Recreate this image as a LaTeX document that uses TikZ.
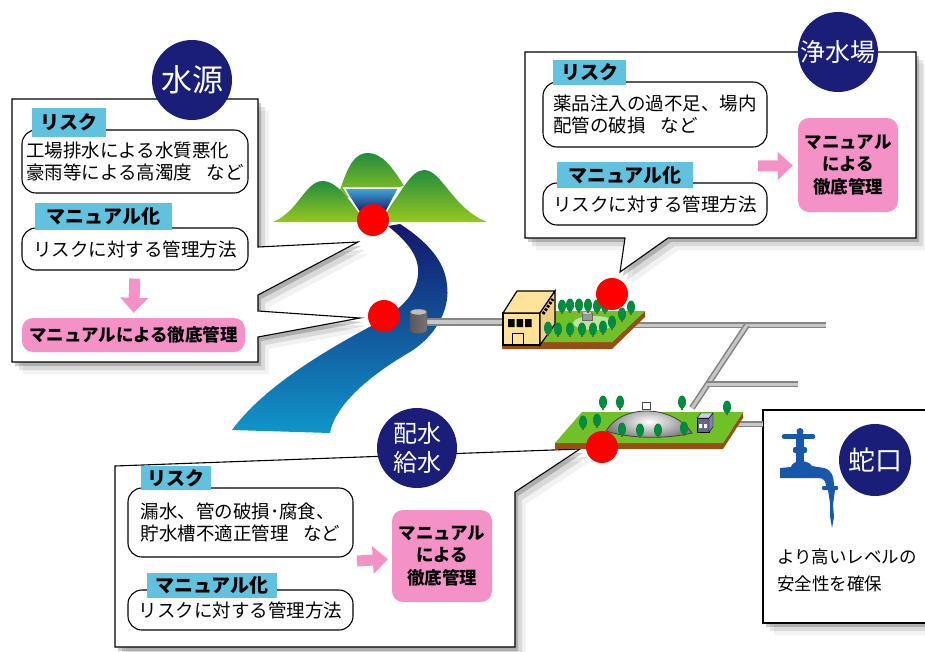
\documentclass[tikz,border=0pt]{standalone}
\usepackage{fontspec}
\setmainfont{Noto Sans CJK JP}
\usetikzlibrary{arrows.meta,shadows}

\definecolor{navy}{RGB}{26,30,120}
\definecolor{tagblue}{RGB}{96,194,222}
\definecolor{rosy}{RGB}{244,146,200}
\definecolor{grass}{RGB}{112,192,40}
\definecolor{soil}{RGB}{150,78,20}
\definecolor{leaf}{RGB}{0,142,62}
\definecolor{tapblue}{RGB}{24,88,172}
\definecolor{hilltop}{RGB}{34,140,62}
\definecolor{hillfoot}{RGB}{150,200,30}
\definecolor{wall}{RGB}{255,226,150}
\definecolor{riverhead}{RGB}{20,22,108}
\definecolor{riverbody}{RGB}{22,86,165}
\definecolor{riverfoot}{RGB}{16,150,202}

\tikzstyle{callout} = [draw=black, line width=1.1pt, fill=white,
    drop shadow={shadow xshift=3pt, shadow yshift=-4pt, opacity=.2, fill=black},
    drop shadow={shadow xshift=7pt, shadow yshift=-8pt, opacity=.1, fill=black},
    drop shadow={shadow xshift=11pt, shadow yshift=-12pt, opacity=.05, fill=black}]
\tikzstyle{badge} = [circle, fill=navy, text=white, inner sep=0pt, align=center]
\tikzstyle{tag} = [fill=tagblue, inner sep=0pt, font=\bfseries\fontsize{19}{19}\selectfont]
\tikzstyle{memo} = [draw=black, line width=1.1pt, fill=white, rounded corners=14pt,
    inner sep=0pt, align=left, font=\fontsize{18.5}{22}\selectfont]
\tikzstyle{manual} = [fill=rosy, rounded corners=11pt, inner sep=0pt, align=center,
    font=\bfseries\fontsize{17.5}{22.5}\selectfont]
\tikzstyle{push} = [draw=rosy, line width=11pt, -{Triangle[width=27pt,length=15pt]}]
\tikzstyle{spot} = [circle, fill=red, minimum size=32pt, inner sep=0pt]
\tikzstyle{pipe} = [draw=black!48, double=black!22, double distance=3pt, line width=1.6pt]

\begin{document}
\begin{tikzpicture}[x=1pt, y=-1pt]
\useasboundingbox (0,0) rectangle (925,651);
\clip (0,0) rectangle (925,651);

% --- callouts ---
\draw[callout] (12,99) -- (258,99) -- (258,247) -- (358,242) -- (258,295) -- (258,311)
    -- (360,318) -- (258,337) -- (258,362) -- (12,362) -- cycle;
\draw[callout] (525,52) -- (916,52) -- (916,238) -- (668,238) -- (620,272)
    -- (625,238) -- (525,238) -- cycle;
\draw[callout] (115,466) -- (580,449) -- (515,492) -- (515,647) -- (115,647) -- cycle;
\draw[callout] (763,410) rectangle (945,623);

% water source
\node[memo, minimum width=226, minimum height=63] (srcrisk) at (135,161.5)
    {工場排水による水質悪化\\豪雨等による高濁度\hspace{0.8em}など};
\node[tag, minimum width=74, minimum height=29] (srcrisktag) at (69,122.5) {リスク};
\node[memo, align=center, minimum width=226, minimum height=42] (srcplan) at (135,249)
    {リスクに対する管理方法};
\node[tag, minimum width=137, minimum height=27] (srcplantag) at (103.5,216.5) {マニュアル化};
\node[manual, minimum width=223, minimum height=34] (srcrule) at (133.5,335)
    {マニュアルによる徹底管理};
\draw[push, shorten <=8pt, shorten >=5pt] (srcplan.south) -- (srcrule.north);
\node[badge, minimum size=80, font=\fontsize{31}{31}\selectfont] (src) at (192,80) {水源};

% purification plant
\node[memo, minimum width=224, minimum height=65] (plantrisk) at (655,114.5)
    {薬品注入の過不足、場内\\配管の破損\hspace{0.8em}など};
\node[tag, minimum width=73, minimum height=25] (plantrisktag) at (589.5,72) {リスク};
\node[memo, align=center, minimum width=224, minimum height=42] (plantplan) at (655,204)
    {リスクに対する管理方法};
\node[tag, minimum width=136, minimum height=26] (plantplantag) at (625,175) {マニュアル化};
\node[manual, minimum width=100, minimum height=94] (plantrule) at (848,165)
    {マニュアル\\による\\徹底管理};
\coordinate (plantgo) at (758,166);
\draw[push, shorten >=5pt] (plantgo) -- (plantrule);
\node[badge, minimum size=80, font=\fontsize{25}{25}\selectfont] (plant) at (838,52) {浄水場};

% distribution and supply
\node[memo, minimum width=225, minimum height=69] (netrisk) at (240.5,522.5)
    {漏水、管の破損･腐食、\\貯水槽不適正管理\hspace{0.8em}など};
\node[tag, minimum width=70, minimum height=24] (netrisktag) at (176,478) {リスク};
\node[memo, align=center, minimum width=225, minimum height=40] (netplan) at (240.5,610)
    {リスクに対する管理方法};
\node[tag, minimum width=130, minimum height=25] (netplantag) at (212,585) {マニュアル化};
\node[manual, minimum width=100, minimum height=92] (netrule) at (442,556)
    {マニュアル\\による\\徹底管理};
\coordinate (netgo) at (357,561);
\draw[push, shorten >=4pt] (netgo) -- (netrule);
\node[badge, minimum size=80, font=\fontsize{24}{29}\selectfont] (net) at (417,448) {配水\\給水};

% tap
\node[badge, minimum size=72, font=\fontsize{27}{27}\selectfont] (tap) at (875,460) {蛇口};
\node[anchor=west, align=left, inner sep=0pt, font=\fontsize{17.5}{27}\selectfont]
    (tapnote) at (777,570) {より高いレベルの\\安全性を確保};

% --- hills and dam ---
\shade[top color=hilltop, bottom color=hillfoot] (337,200) .. controls (348,162) and (356,153)
    .. (368,153) .. controls (381,153) and (392,166) .. (404,186) -- cycle;
\shade[top color=hilltop, bottom color=hillfoot] (273,222) .. controls (298,212) and (305,182)
    .. (322,181) .. controls (338,181) and (348,200) .. (362,216) -- (362,222) -- cycle;
\shade[top color=hilltop, bottom color=hillfoot] (384,214) .. controls (400,196) and (410,170)
    .. (424,170) .. controls (442,170) and (452,208) .. (487,222) -- (380,222) -- cycle;
\shade[top color=riverfoot!80!white, bottom color=riverhead, draw=white, line width=1.5pt]
    (344,188) -- (399,188) .. controls (392,200) and (388,210) .. (385,213)
    -- (360,213) .. controls (356,208) and (350,198) .. cycle;

% --- river ---
\shade[top color=riverhead, middle color=riverbody, bottom color=riverfoot]
    (388,226) .. controls (405,240) and (420,255) .. (418,275)
    .. controls (416,295) and (400,310) .. (375,324)
    .. controls (330,348) and (265,385) .. (232,430) -- (330,433)
    .. controls (335,405) and (370,375) .. (410,352)
    .. controls (440,333) and (450,305) .. (447,285)
    .. controls (445,260) and (425,240) .. (400,224) -- cycle;

% --- pipes ---
\coordinate (intake) at (425,322);
\coordinate (plantin) at (508,322);
\coordinate (plantout) at (612,325);
\coordinate (mainend) at (826,325);
\coordinate (split) at (747,325);
\coordinate (netin) at (692,408);
\coordinate (tee) at (707,384);
\coordinate (sideend) at (798,384);
\coordinate (pump) at (712,424);
\coordinate (tapin) at (763,424);
\draw[pipe, double distance=4pt] (intake) -- (plantin);
\draw[pipe] (plantout) -- (mainend);
\draw[pipe] (split) -- (netin);
\draw[pipe] (tee) -- (sideend);
\draw[pipe] (pump) -- (tapin);

% intake tower
\shade[left color=black!65, middle color=black!25, right color=black!55, draw=black!70]
    (410,312) -- (410,330) .. controls (410,335) and (427,335) .. (427,330) -- (427,312) -- cycle;
\filldraw[fill=black!25, draw=black!70] (418.5,312) ellipse (8.5 and 3);

% --- purification plant ---
\fill[soil] (502,342) -- (612,342) -- (645,311) -- (645,317) -- (612,349) -- (502,349) -- cycle;
\fill[grass] (502,342) -- (612,342) -- (645,311) -- (535,311) -- cycle;
\fill[grass!45!white] (594,323) ellipse (21 and 7);
\filldraw[fill=black!40, draw=black!60] (582,313) rectangle (592,320);
\filldraw[fill=black!20, draw=black!60] (587,313) ellipse (5 and 1.8);
\foreach \x/\y in {562/306, 570/305, 579/305, 588/305, 597/306, 605/306, 631/307, 622/314}
    { \fill[soil] (\x-1,\y) rectangle (\x+1,\y+8); \fill[leaf] (\x,\y) ellipse (4 and 6.5); }
% building
\filldraw[fill=wall, draw=black, line width=1.2pt] (503,313) rectangle (540,345);
\filldraw[fill=wall!95!white, draw=black, line width=1.2pt]
    (503,313) -- (517,291) -- (555,291) -- (540,313) -- cycle;
\filldraw[fill=wall!80!brown, draw=black, line width=1.2pt]
    (540,313) -- (555,291) -- (555,324) -- (540,345) -- cycle;
\fill[black] (508,319) rectangle (514.5,327) (516.5,319) rectangle (523,327)
    (525,319) rectangle (531.5,327);
\draw[black, line width=1pt] (512,345) -- (512,333) -- (523,333) -- (523,345);
\draw[black, line width=3pt, dash pattern=on 2.5pt off 1.5pt] (543,314) -- (553,299);
\foreach \x/\y in {548/328, 558/329, 570/329, 582/329, 593/329, 603/327, 612/322}
    { \fill[soil] (\x-1,\y) rectangle (\x+1,\y+8); \fill[leaf] (\x,\y) ellipse (4 and 6.5); }

% --- distribution reservoir ---
\fill[soil] (555,443) -- (723,443) -- (743,412) -- (743,418) -- (723,449) -- (555,449) -- cycle;
\fill[grass] (555,443) -- (723,443) -- (743,412) -- (582,412) -- cycle;
\foreach \x/\y in {603/402, 620/402, 682/402, 727/407, 583/422, 597/420}
    { \fill[soil] (\x-1,\y) rectangle (\x+1,\y+8); \fill[leaf] (\x,\y) ellipse (4 and 6.5); }
\shade[inner color=white, outer color=black!50, draw=black!75, line width=0.8pt]
    (606,431) .. controls (622,404) and (672,404) .. (692,433)
    .. controls (668,439) and (630,439) .. cycle;
\filldraw[fill=white, draw=black!70] (642,402) rectangle (650,409);
\foreach \x/\y in {622/429, 640/430, 658/430, 684/428}
    { \fill[soil] (\x-1,\y) rectangle (\x+1,\y+8); \fill[leaf] (\x,\y) ellipse (4 and 6.5); }
% pump house
\filldraw[fill=black!75!blue!60, draw=black] (697,418) rectangle (709,432);
\filldraw[fill=cyan!25!blue!20, draw=black] (697,418) -- (701,413) -- (713,413) -- (709,418) -- cycle;
\filldraw[fill=black!60!blue!50, draw=black] (709,418) -- (713,413) -- (713,427) -- (709,432) -- cycle;
\fill[white] (699,424) rectangle (702,428) (704,424) rectangle (707,428);

% --- faucet ---
\fill[tapblue] (800,431.5) circle (3.5);
\draw[tapblue, line width=4.5pt, line cap=round] (784,436.5) -- (813,436.5);
\fill[tapblue] (796,437) rectangle (804,462);
\fill[tapblue, rounded corners=2pt] (793,447) rectangle (807,453);
\fill[tapblue] (780,478) -- (780,468) -- (791,467) .. controls (792,460) and (808,459) .. (812,466)
    -- (824,468) .. controls (832,470) and (834,477) .. (834,487) -- (826,487)
    .. controls (826,481) and (824,478) .. (818,478) -- cycle;
\fill[tapblue, rounded corners=1pt] (822,486) rectangle (838,490);
\fill[tapblue] (828,490) -- (835,490) -- (833,505) -- (834,517) -- (832,528) -- (830,516)
    -- (830,503) -- cycle;

% --- check points ---
\node[spot] (damspot) at (373,220) {};
\node[spot] (intakespot) at (384,316) {};
\node[spot] (plantspot) at (612,294) {};
\node[spot] (netspot) at (602,447) {};
\end{tikzpicture}
\end{document}
